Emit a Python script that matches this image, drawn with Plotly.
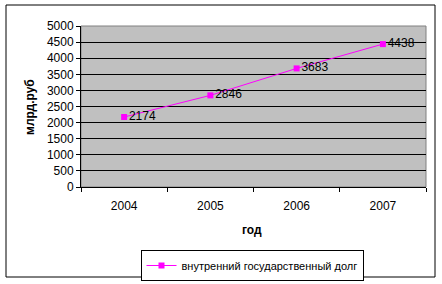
import plotly.graph_objects as go

years = ["2004", "2005", "2006", "2007"]
debt = [2174, 2846, 3683, 4438]
series_name = "внутренний государственный долг"

L, R, T, B = 81, 16, 26, 97
W, H = 442, 284
pw, ph = W - L - R, H - T - B

def px(x):
    return (x - L) / pw

def py(y):
    return (H - B - y) / ph

fig = go.Figure()
fig.add_trace(go.Scatter(
    x=years, y=debt, mode="lines+markers+text", name=series_name,
    text=[str(v) for v in debt], textposition="middle right",
    textfont=dict(size=12, color="black"),
    line=dict(color="#ff00ff", width=1),
    marker=dict(symbol="square", size=6, color="#ff00ff"),
))

fig.update_layout(
    width=W, height=H,
    margin=dict(l=L, r=R, t=T, b=B, autoexpand=False),
    paper_bgcolor="white", plot_bgcolor="#c0c0c0",
    font=dict(family="Liberation Sans, Arial", size=12, color="black"),
    showlegend=True,
    legend=dict(orientation="h", xref="container", yref="container",
                x=252 / W, xanchor="center", y=1 - 250 / H, yanchor="top",
                bordercolor="black", borderwidth=1, font=dict(size=11),
                itemwidth=30, tracegroupgap=0),
    xaxis=dict(type="category", range=[-0.5, 3.5], tickson="boundaries",
               ticks="outside", ticklen=4, tickcolor="black",
               showgrid=False, showline=True, linecolor="black", mirror=False,
               tickfont=dict(size=12), ticklabelstandoff=8),
    yaxis=dict(range=[0, 5000], dtick=500, ticks="outside", ticklen=4, tickcolor="black",
               showgrid=True, gridcolor="black", gridwidth=1,
               showline=True, linecolor="black", zeroline=False,
               tickfont=dict(size=12)),
    shapes=[
        dict(type="rect", xref="paper", yref="paper", x0=0, x1=1, y0=0, y1=1,
             line=dict(color="#808080", width=1), layer="below"),
        dict(type="rect", xref="paper", yref="paper",
             x0=px(6), x1=px(435), y0=py(277), y1=py(5),
             line=dict(color="black", width=1)),
    ],
    annotations=[
        dict(text="<b>год</b>", xref="paper", yref="paper", x=px(252), y=py(230),
             xanchor="center", yanchor="middle",
             showarrow=False, font=dict(size=12)),
        dict(text="<b>млрд.руб</b>", xref="paper", yref="paper", x=px(30), y=py(107),
             xanchor="center", yanchor="middle",
             showarrow=False, textangle=-90, font=dict(size=12)),
    ],
)

fig.write_html("out.html")
